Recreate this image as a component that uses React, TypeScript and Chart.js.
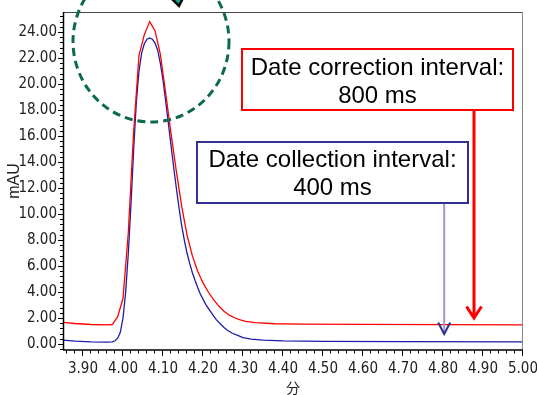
import React, { useEffect, useRef } from "react";
import { Chart, registerables } from "chart.js";

Chart.register(...registerables);

// Red trace: data correction interval 800 ms (time in min, signal in mAU)
const redTimes = [
  3.85, 3.88, 3.92, 3.96, 3.9733, 3.9867, 4.0, 4.0133, 4.0267, 4.04, 4.0533,
  4.0667, 4.08, 4.0933, 4.1067, 4.12, 4.1333, 4.1467, 4.16, 4.1733, 4.1867,
  4.2, 4.2133, 4.2267, 4.24, 4.2533, 4.2667, 4.28, 4.2933, 4.3067, 4.33, 4.38,
  4.45, 4.6, 4.8, 5.0,
];
const redValues = [
  1.67, 1.58, 1.5, 1.47, 1.5, 2.1, 3.5, 8.6, 16.4, 22.2, 23.8, 24.8, 24.1,
  22.3, 19.3, 16.2, 13.3, 10.6, 8.4, 6.8, 5.6, 4.7, 4.0, 3.4, 2.9, 2.5, 2.2,
  2.0, 1.85, 1.75, 1.64, 1.56, 1.53, 1.51, 1.49, 1.47,
];

// Blue trace: data collection interval 400 ms
const blueTimes = [
  3.85, 3.88, 3.92, 3.96, 3.9733, 3.98, 3.9867, 3.9933, 4.0, 4.0067, 4.0133,
  4.02, 4.0267, 4.0333, 4.04, 4.0467, 4.0533, 4.06, 4.0667, 4.0733, 4.08,
  4.0867, 4.0933, 4.1, 4.1067, 4.1133, 4.12, 4.1267, 4.1333, 4.14, 4.1467,
  4.1533, 4.16, 4.1667, 4.1733, 4.18, 4.1867, 4.1933, 4.2, 4.2067, 4.2133,
  4.22, 4.2267, 4.2333, 4.24, 4.2467, 4.2533, 4.26, 4.2733, 4.2867, 4.3, 4.32,
  4.35, 4.4, 4.5, 4.7, 5.0,
];
const blueValues = [
  0.3, 0.22, 0.16, 0.14, 0.16, 0.25, 0.45, 0.9, 2.0, 4.0, 7.0, 10.8, 15.0,
  18.6, 21.0, 22.4, 23.1, 23.45, 23.55, 23.45, 23.15, 22.6, 21.6, 20.3, 18.7,
  17.0, 15.3, 13.6, 12.0, 10.5, 9.1, 8.0, 7.0, 6.2, 5.5, 4.9, 4.35, 3.85,
  3.45, 3.05, 2.75, 2.45, 2.15, 1.88, 1.65, 1.45, 1.25, 1.08, 0.83, 0.66, 0.5,
  0.38, 0.3, 0.24, 0.2, 0.18, 0.17,
];

const xTickValues = [3.9, 4.0, 4.1, 4.2, 4.3, 4.4, 4.5, 4.6, 4.7, 4.8, 4.9, 5.0];
const yTickValues = [0, 2, 4, 6, 8, 10, 12, 14, 16, 18, 20, 22, 24];

const xLabel = "分";
const yLabel = "mAU";
const redBoxLines = ["Date correction interval:", "800 ms"];
const blueBoxLines = ["Date collection interval:", "400 ms"];
// arrow tips in data coordinates [time, mAU]
const redArrowTip = [4.8775, 2.0];
const blueArrowTip = [4.803, 0.77];

const TICK_FONT = "'Liberation Sans Narrow', 'DejaVu Sans Condensed', 'Liberation Sans', sans-serif";
const BOX_FONT = "'Liberation Sans', Arial, sans-serif";

const decorPlugin = {
  id: "decor",
  afterDraw(chart: any) {
    const ctx = chart.ctx as CanvasRenderingContext2D;
    const xs = chart.scales.x;
    const ys = chart.scales.y;
    const { left, right, top, bottom } = chart.chartArea;
    ctx.save();

    // frame
    ctx.lineWidth = 1;
    ctx.strokeStyle = "#444";
    ctx.beginPath();
    ctx.moveTo(left, top + 0.5);
    ctx.lineTo(right, top + 0.5);
    ctx.stroke();
    ctx.strokeStyle = "#888";
    ctx.beginPath();
    ctx.moveTo(right - 0.5, top);
    ctx.lineTo(right - 0.5, bottom);
    ctx.stroke();
    ctx.strokeStyle = "#000";
    ctx.lineWidth = 1.5;
    ctx.beginPath();
    ctx.moveTo(left + 0.5, top);
    ctx.lineTo(left + 0.5, bottom);
    ctx.moveTo(left, bottom);
    ctx.lineTo(right, bottom);
    ctx.stroke();

    // x ticks (major 0.1, minor 0.02)
    ctx.lineWidth = 1;
    ctx.beginPath();
    for (let k = 193; k <= 250; k++) {
      const px = Math.round(xs.getPixelForValue(k * 0.02)) - 0.5;
      const len = k % 5 === 0 ? 6 : 3.5;
      ctx.moveTo(px, bottom);
      ctx.lineTo(px, bottom + len);
    }
    // y ticks (major 2, minor 0.4)
    for (let k = -1; k <= 63; k++) {
      const v = k * 0.4;
      if (v < ys.min || v > ys.max) continue;
      const py = Math.round(ys.getPixelForValue(v)) + 0.5;
      const len = k % 5 === 0 ? 5 : 3;
      ctx.moveTo(left, py);
      ctx.lineTo(left - len, py);
    }
    ctx.stroke();

    // dashed ellipse around the peak
    ctx.strokeStyle = "#0b6a4e";
    ctx.lineWidth = 3;
    ctx.setLineDash([8, 5]);
    ctx.beginPath();
    ctx.ellipse(151, 41.5, 78, 80.5, 0, 0, Math.PI * 2);
    ctx.stroke();
    ctx.setLineDash([]);

    // teal arrow tip at top
    ctx.fillStyle = "#12a58a";
    ctx.strokeStyle = "#000";
    ctx.lineWidth = 2.5;
    ctx.beginPath();
    ctx.moveTo(165, -8);
    ctx.lineTo(179, 6);
    ctx.lineTo(186, -8);
    ctx.closePath();
    ctx.fill();
    ctx.stroke();

    // red arrow
    const rx = xs.getPixelForValue(redArrowTip[0]);
    const ry = ys.getPixelForValue(redArrowTip[1]);
    ctx.strokeStyle = "#ff0000";
    ctx.lineWidth = 3;
    ctx.beginPath();
    ctx.moveTo(rx, 110);
    ctx.lineTo(rx, ry);
    ctx.moveTo(rx - 7.5, ry - 11.5);
    ctx.lineTo(rx, ry);
    ctx.lineTo(rx + 7.5, ry - 11.5);
    ctx.stroke();

    // blue arrow
    const bx = xs.getPixelForValue(blueArrowTip[0]);
    const by = ys.getPixelForValue(blueArrowTip[1]);
    ctx.strokeStyle = "#9a9ad0";
    ctx.lineWidth = 2;
    ctx.beginPath();
    ctx.moveTo(bx, 203);
    ctx.lineTo(bx, by - 1);
    ctx.stroke();
    ctx.strokeStyle = "#2e3192";
    ctx.lineWidth = 2;
    ctx.beginPath();
    ctx.moveTo(bx - 6, by - 11.5);
    ctx.lineTo(bx, by);
    ctx.lineTo(bx + 6, by - 11.5);
    ctx.stroke();

    // boxes
    const drawBox = (x0: number, y0: number, x1: number, y1: number, color: string, lines: string[], ly: number[]) => {
      ctx.fillStyle = "#fff";
      ctx.fillRect(x0, y0, x1 - x0, y1 - y0);
      ctx.strokeStyle = color;
      ctx.lineWidth = 2;
      ctx.strokeRect(x0, y0, x1 - x0, y1 - y0);
      ctx.fillStyle = "#000";
      ctx.font = `24px ${BOX_FONT}`;
      ctx.textAlign = "center";
      ctx.textBaseline = "middle";
      lines.forEach((t, i) => ctx.fillText(t, (x0 + x1) / 2, ly[i]));
    };
    drawBox(242, 49, 513, 110, "#ff0000", redBoxLines, [68, 96]);
    drawBox(197, 142, 468, 203, "#2e3192", blueBoxLines, [160, 188]);

    ctx.restore();
  },
};

export default function App() {
  const ref = useRef<HTMLCanvasElement>(null);
  useEffect(() => {
    const canvas = ref.current!;
    const chart = new Chart(canvas, {
      type: "line",
      data: {
        datasets: [
          {
            label: "800 ms",
            data: redTimes.map((t, i) => ({ x: t, y: redValues[i] })),
            borderColor: "#ff0000",
            borderWidth: 1.3,
            pointRadius: 0,
            tension: 0,
            fill: false,
          },
          {
            label: "400 ms",
            data: blueTimes.map((t, i) => ({ x: t, y: blueValues[i] })),
            borderColor: "#1c1ca8",
            borderWidth: 1.3,
            pointRadius: 0,
            tension: 0,
            fill: false,
          },
        ],
      },
      options: {
        responsive: false,
        animation: false,
        events: [],
        layout: { padding: { top: 12, right: 14, left: 0, bottom: 0 } },
        plugins: { legend: { display: false }, tooltip: { enabled: false } },
        scales: {
          x: {
            type: "linear",
            min: 3.85,
            max: 5.0,
            grid: { display: false, drawTicks: false },
            border: { display: false },
            afterFit: (s: any) => {
              s.height = 45;
              s.paddingLeft = 0;
              s.paddingRight = 0;
            },
            afterBuildTicks: (s: any) => {
              s.ticks = xTickValues.map((v) => ({ value: v }));
            },
            ticks: {
              autoSkip: false,
              maxRotation: 0,
              padding: 10,
              color: "#222",
              font: { family: TICK_FONT, size: 15 },
              callback: (v: any) => Number(v).toFixed(2),
            },
            title: {
              display: true,
              text: xLabel,
              color: "#222",
              font: { family: "'Noto Sans CJK JP', sans-serif", size: 14, lineHeight: 1 },
              padding: { top: 0, bottom: 0 },
            },
          },
          y: {
            type: "linear",
            min: -0.46,
            max: 25.54,
            grid: { display: false, drawTicks: false },
            border: { display: false },
            afterFit: (s: any) => {
              s.width = 63;
              s.paddingTop = 0;
              s.paddingBottom = 0;
            },
            afterBuildTicks: (s: any) => {
              s.ticks = yTickValues.map((v) => ({ value: v }));
            },
            ticks: {
              autoSkip: false,
              padding: 6,
              color: "#222",
              font: { family: TICK_FONT, size: 15 },
              callback: (v: any) => Number(v).toFixed(2),
            },
            title: {
              display: true,
              text: yLabel,
              color: "#222",
              font: { family: "'Liberation Sans', sans-serif", size: 16, lineHeight: 1 },
              padding: { top: 7, bottom: 0 },
            },
          },
        },
      },
      plugins: [decorPlugin],
    });
    return () => chart.destroy();
  }, []);
  return (
    <div style={{ position: "absolute", left: 0, top: 0, width: 537, height: 395, background: "#fff" }}>
      <canvas ref={ref} width={537} height={395} style={{ width: 537, height: 395, display: "block" }} />
    </div>
  );
}
